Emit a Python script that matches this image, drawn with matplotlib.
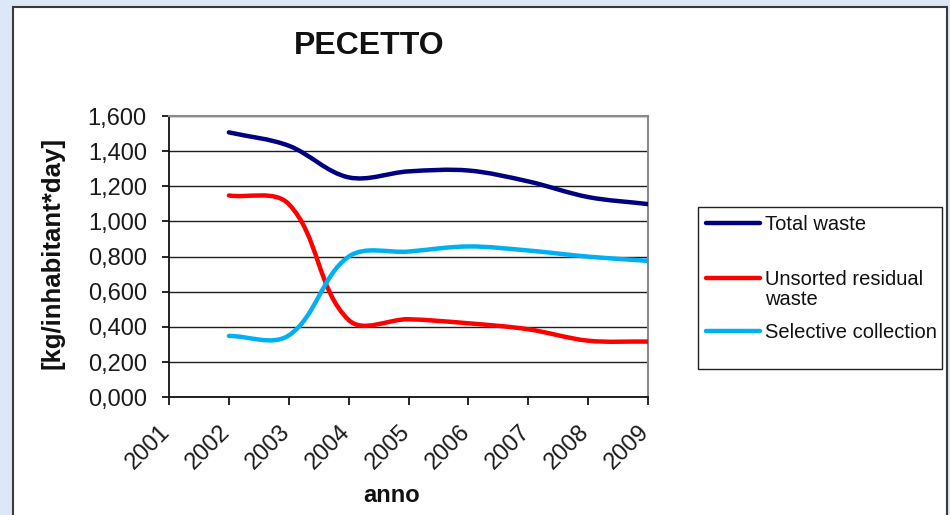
"""
PECETTO - waste per inhabitant per day, 2002-2009.
"""
import numpy as np
import matplotlib
matplotlib.use("Agg")
import matplotlib.pyplot as plt
from matplotlib.path import Path
from matplotlib.patches import PathPatch, Rectangle
from matplotlib.lines import Line2D
from matplotlib.ticker import FuncFormatter
from matplotlib.transforms import ScaledTranslation

plt.rcParams['font.family'] = ['Liberation Sans', 'DejaVu Sans']

YEARS = [2002, 2003, 2004, 2005, 2006, 2007, 2008, 2009]
TOTAL = [1.507, 1.431, 1.251, 1.285, 1.290, 1.228, 1.139, 1.099]
UNSORTED = [1.148, 1.099, 0.440, 0.444, 0.421, 0.387, 0.322, 0.317]
SELECTIVE = [0.349, 0.352, 0.800, 0.829, 0.858, 0.835, 0.800, 0.776]
LABELS = ["Total waste", "Unsorted residual\nwaste", "Selective collection"]
COLORS = ["#000080", "#ff0000", "#00b0f0"]
X_TICKS = list(range(2001, 2010))

W, H = 950, 515


def smooth_path(ax, xs, ys, t=1 / 3):
    """Excel-like smoothed line, built in screen space then mapped back to data."""
    pts = ax.transData.transform(np.column_stack([xs, ys]))
    n = len(pts)
    verts = [pts[0]]
    codes = [Path.MOVETO]
    for i in range(n - 1):
        p0 = pts[i - 1] if i > 0 else pts[i]
        p1, p2 = pts[i], pts[i + 1]
        p3 = pts[i + 2] if i + 2 < n else pts[i + 1]
        chord = np.hypot(*(p2 - p1))
        d1 = (p2 - p0) / np.hypot(*(p2 - p0))
        d2 = (p3 - p1) / np.hypot(*(p3 - p1))
        verts += [p1 + d1 * chord * t, p2 - d2 * chord * t, p2]
        codes += [Path.CURVE4] * 3
    verts = ax.transData.inverted().transform(np.array(verts))
    return Path(verts, codes)


def px(x, y):
    # pixel (from top-left) -> figure fraction
    return x / W, 1 - y / H


fig = plt.figure(figsize=(W / 100, H / 100), dpi=100)
fig.patch.set_facecolor("#dce7f8")
fig.add_artist(Rectangle(px(12.5, 520), (947 - 12.5) / W, (520 - 6.5) / H,
                         transform=fig.transFigure, facecolor="white",
                         edgecolor="#3a3a3a", lw=1.5, zorder=0))

ax = fig.add_axes([169 / W, 1 - 397.3 / H, (648 - 169) / W, (397.3 - 116) / H])
ax.set_facecolor("white")
ax.set_xlim(2001, 2009)
ax.set_ylim(0, 1.6)

for vals, color in zip([TOTAL, UNSORTED, SELECTIVE], COLORS):
    ax.add_patch(PathPatch(smooth_path(ax, YEARS, vals), fill=False,
                           edgecolor=color, lw=3.2, capstyle="round", zorder=3))

ax.set_yticks([i * 0.2 for i in range(9)])
ax.set_xticks(X_TICKS)
ax.yaxis.set_major_formatter(FuncFormatter(lambda v, p: f"{v:.3f}".replace(".", ",")))
ax.grid(axis="y", color="#1e1e1e", lw=1.0)
ax.set_axisbelow(True)

ax.tick_params(axis="y", labelsize=17, labelcolor="#1a1a1a", length=5, width=1.2, pad=11)
ax.tick_params(axis="x", labelsize=17, labelcolor="#1a1a1a", length=6, width=1.2, pad=30)
shift = ScaledTranslation(-20.5 / 100, 0, fig.dpi_scale_trans)
for lab in ax.get_xticklabels():
    lab.set_rotation(45)
    lab.set_ha("center")
    lab.set_va("center")
    lab.set_rotation_mode("anchor")
    lab.set_transform(lab.get_transform() + shift)

ax.spines["left"].set_color("#111111")
ax.spines["bottom"].set_color("#111111")
ax.spines["left"].set_linewidth(1.3)
ax.spines["bottom"].set_linewidth(1.3)
ax.spines["top"].set_color("#8a8a8a")
ax.spines["right"].set_color("#8a8a8a")
ax.spines["top"].set_linewidth(1.5)
ax.spines["right"].set_linewidth(1.5)

fig.text(*px(369, 45.5), "PECETTO", fontsize=23, fontweight="bold",
         ha="center", va="center", color="#111111")
fig.text(*px(391.7, 495), "anno", fontsize=17, fontweight="bold",
         ha="center", va="center", color="#111111")
fig.text(*px(52, 253), "[kg/inhabitant*day]", fontsize=18.5, fontweight="bold",
         ha="center", va="center", rotation=90, color="#111111")

# legend box drawn by hand to keep the Excel layout
fig.add_artist(Rectangle(px(698, 369), (942 - 698) / W, (369 - 207) / H,
                         transform=fig.transFigure, facecolor="white",
                         edgecolor="#222222", lw=1.0, zorder=2))
handle_y = [222.7, 277.7, 330.7]
for label, color, hy in zip(LABELS, COLORS, handle_y):
    x0, y0 = px(706, hy)
    x1, _ = px(760, hy)
    fig.add_artist(Line2D([x0, x1], [y0, y0], transform=fig.transFigure,
                          color=color, lw=3.2, solid_capstyle="round", zorder=3))
    fig.text(765 / W, 1 - (hy - 8) / H, label, fontsize=14.5, ha="left", va="top",
             color="#111111", linespacing=1.1, zorder=4)

fig.savefig("out.png", dpi=100, facecolor=fig.get_facecolor())
